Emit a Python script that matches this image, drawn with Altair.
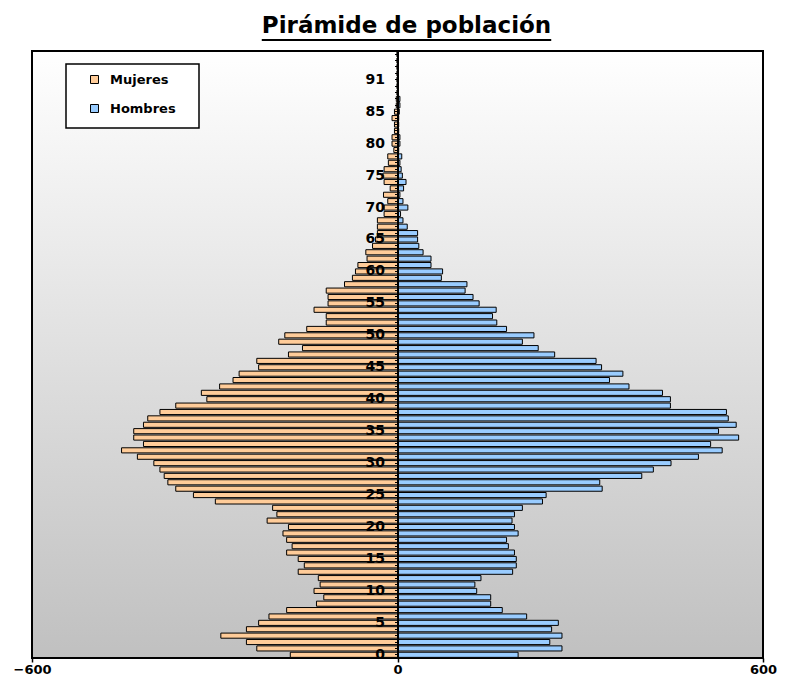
import altair as alt
import pandas as pd

# ---- data ----
ages = list(range(0, 90)) + [91, 92, 93, 94, 95]

mujeres = [
    176, 231, 248, 290, 248, 228, 211, 182, 133, 121,
    137, 127, 130, 163, 153, 163, 182, 173, 182, 188,
    179, 214, 198, 205, 299, 335, 364, 377, 383, 390,
    400, 427, 453, 417, 433, 433, 417, 410, 390, 364,
    313, 322, 292, 270, 260, 228, 231, 179, 156, 195,
    185, 149, 117, 117, 137, 114, 114, 117, 87, 74,
    69, 65, 50, 52, 41, 36, 33, 33, 33, 22,
    22, 16, 23, 12, 22, 24, 22, 15, 16, 6,
    9, 9, 5, 5, 9, 5, 2, 2, 1, 1,
    1, 1, 1, 1, 1,
]

hombres = [
    198, 270, 250, 270, 253, 264, 212, 172, 153, 153,
    130, 127, 137, 189, 195, 195, 192, 182, 179, 198,
    192, 188, 192, 205, 238, 244, 336, 332, 401, 420,
    449, 494, 533, 514, 560, 527, 556, 543, 540, 448,
    448, 435, 380, 348, 370, 335, 326, 258, 231, 205,
    224, 179, 163, 156, 162, 134, 124, 111, 114, 72,
    74, 55, 55, 42, 35, 33, 33, 16, 9, 5,
    17, 9, 4, 10, 14, 8, 6, 4, 7, 2,
    4, 4, 2, 2, 2, 3, 4, 4, 1, 1,
    1, 1, 0, 1, 0,
]

age_labels = [0, 5, 10, 15, 20, 25, 30, 35, 40, 45, 50, 55, 60, 65, 70, 75, 80, 85, 91]
x_ticks = [-600, 0, 600]
series_names = ["Mujeres", "Hombres"]
series_colors = ["#FFCC99", "#99CCFF"]
title_text = "Pirámide de población"

FONT = "DejaVu Sans"
W, H = 731, 607
TITLE_SIZE = 23
TITLE_DX = 9

rows = []
for a, m, h in zip(ages, mujeres, hombres):
    rows.append({"age": a, "sexo": "Mujeres", "value": -m})
    rows.append({"age": a, "sexo": "Hombres", "value": h})
df = pd.DataFrame(rows)

label_expr = ("indexof([" + ",".join(str(v) for v in age_labels) +
              "], datum.value) >= 0 ? datum.label : ''")

one = pd.DataFrame({"d": [0]})

bg = alt.Chart(one).mark_rect(
    fill=alt.LinearGradient(
        gradient="linear",
        stops=[alt.GradientStop(offset=0, color="#ffffff"),
               alt.GradientStop(offset=1, color="#c0c0c0")],
        x1=0, x2=0, y1=0, y2=1),
    stroke="black", strokeWidth=2,
).encode(x=alt.value(0), x2=alt.value(W), y=alt.value(0), y2=alt.value(H))

bars = alt.Chart(df).mark_bar(stroke="black", strokeWidth=1).encode(
    x=alt.X("value:Q",
            scale=alt.Scale(domain=[-600, 600], nice=False),
            axis=alt.Axis(values=x_ticks, title=None, grid=False, labelFlush=False,
                          tickSize=4, tickColor="black", tickWidth=1.5, domain=False,
                          labelFont=FONT, labelFontWeight="bold", labelFontSize=13,
                          labelColor="black", labelPadding=1)),
    y=alt.Y("age:O", sort="descending",
            scale=alt.Scale(paddingInner=0.2, paddingOuter=0.1),
            axis=alt.Axis(title=None, values=ages, labelExpr=label_expr,
                          labelOverlap=False, offset=-(W / 2), tickSize=3,
                          tickColor="black", domainColor="black", domainWidth=2,
                          labelFont=FONT, labelFontWeight="bold", labelFontSize=14,
                          labelColor="black", labelPadding=10, grid=False, zindex=1)),
    color=alt.Color("sexo:N",
                    scale=alt.Scale(domain=series_names, range=series_colors),
                    legend=alt.Legend(orient="none", legendX=56, legendY=22, title=None,
                                      symbolType="square", symbolSize=64,
                                      symbolStrokeColor="black", symbolStrokeWidth=1,
                                      labelFont=FONT, labelFontWeight="bold",
                                      labelFontSize=13, labelColor="black",
                                      labelOffset=9, rowPadding=15, padding=0)),
)

box = alt.Chart(one).mark_rect(fill="white", stroke="black", strokeWidth=1.5).encode(
    x=alt.value(34), x2=alt.value(167), y=alt.value(13), y2=alt.value(77))

half = 12.585 * TITLE_SIZE / 2
underline = alt.Chart(one).mark_rule(color="black", strokeWidth=2).encode(
    x=alt.value(W / 2 + TITLE_DX - half), x2=alt.value(W / 2 + TITLE_DX + half),
    y=alt.value(-11))

chart = alt.layer(bg, bars, box, underline).properties(
    width=W, height=H,
    title=alt.TitleParams(title_text, font=FONT, fontSize=TITLE_SIZE, fontWeight="bold",
                          color="black", anchor="middle", offset=1, dx=TITLE_DX),
    padding={"left": 24, "top": 43, "right": 14, "bottom": 18},
    autosize=alt.AutoSizeParams(type="none"),
).configure_view(stroke=None)

chart.save("out.html", embed_options={"renderer": "svg", "actions": False})
